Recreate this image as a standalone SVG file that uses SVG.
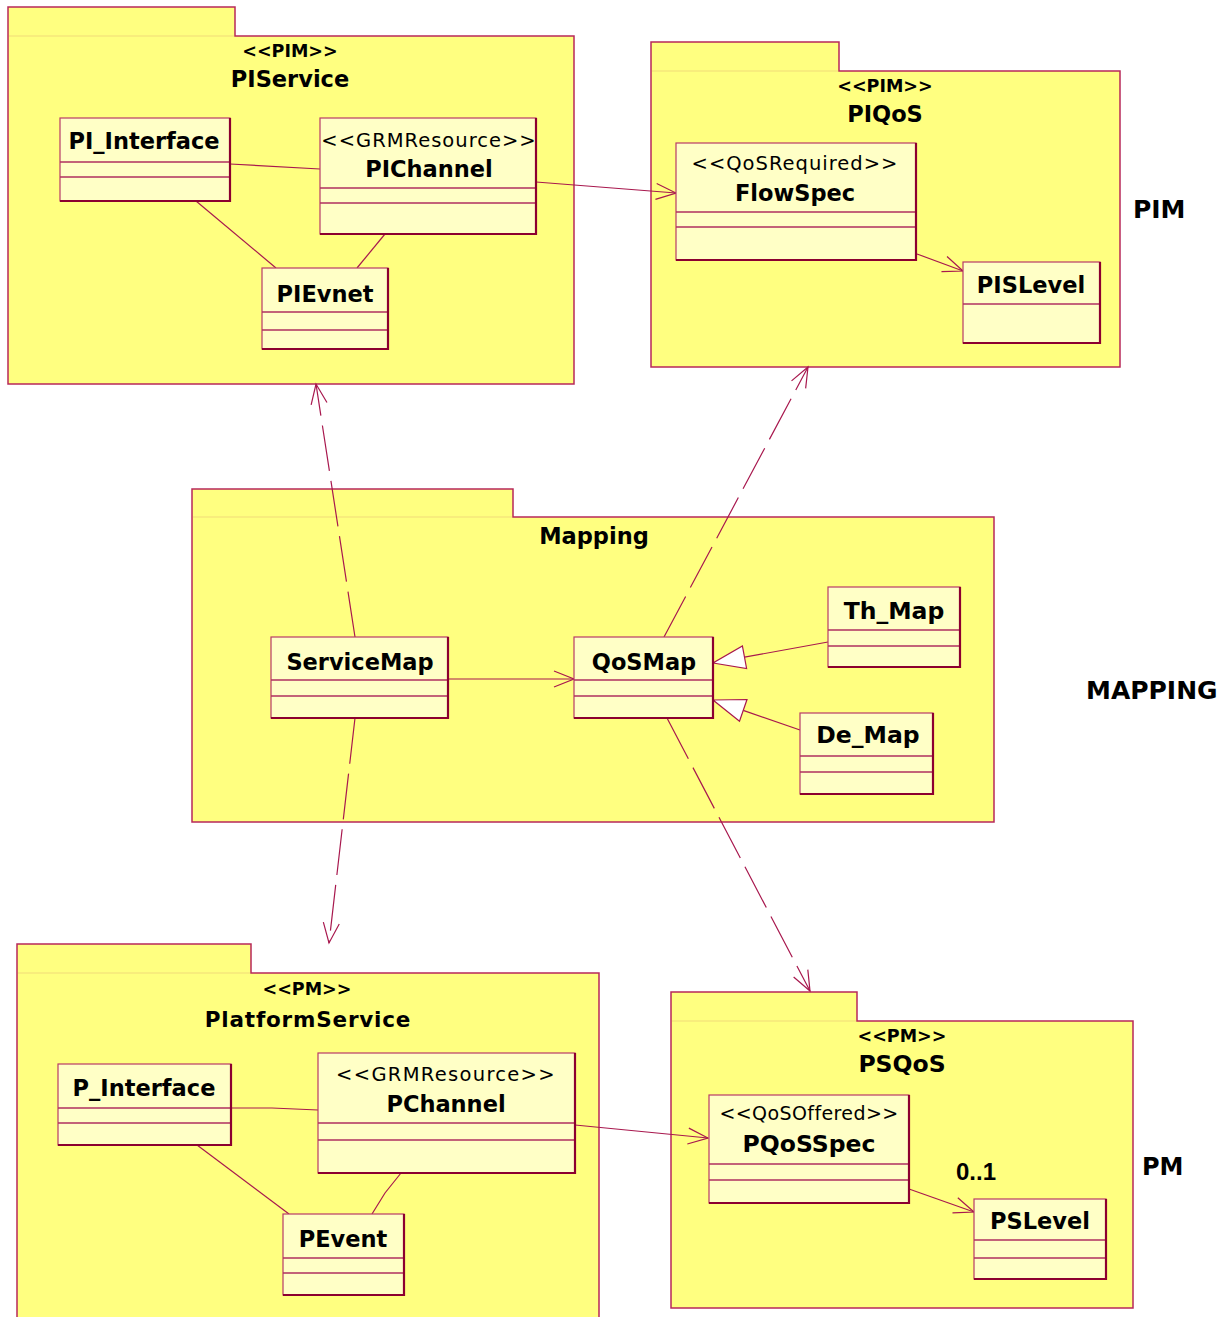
<svg xmlns="http://www.w3.org/2000/svg" width="1231" height="1317" viewBox="0 0 1231 1317">
  <style>
    .pkg { fill: #ffff80; stroke: #b8285a; stroke-width: 1.5; }
    .tabline { stroke: #f2dc78; stroke-width: 1.2; fill: none; }
    .cls { fill: #ffffc6; stroke: #b83a68; stroke-width: 1.2; }
    .shade { fill: none; stroke: #8c0030; stroke-width: 2.2; }
    .sep { fill: none; stroke: #b03060; stroke-width: 1.3; }
    .line { fill: none; stroke: #a8184e; stroke-width: 1.2; }
    .dash { fill: none; stroke: #a8184e; stroke-width: 1.2; stroke-dasharray: 46 10; }
    .gen { fill: #ffffff; stroke: #a8184e; stroke-width: 1.2; }
    text { font-family: "DejaVu Sans", Verdana, sans-serif; fill: #000; }
    .nm { font-weight: bold; font-size: 22.5px; text-anchor: middle; }
    .ster { font-weight: bold; font-size: 17.5px; text-anchor: middle; }
    .st { font-size: 19.5px; text-anchor: middle; letter-spacing: 1px; }
    .side { font-weight: bold; font-size: 25px; }
    .mult { font-family: "Liberation Sans", Arial, sans-serif; font-weight: bold; font-size: 24px; }
  </style>
  <defs>
    <marker id="open" viewBox="-22 -10 24 20" refX="0" refY="0" markerWidth="24" markerHeight="20" markerUnits="userSpaceOnUse" orient="auto">
      <path d="M-20,-8 L0,0 L-20,8" fill="none" stroke="#a8184e" stroke-width="1.2" stroke-dasharray="none"/>
    </marker>
  </defs>

  <rect width="1231" height="1317" fill="#ffffff"/>

  <!-- packages -->
  <g id="pkg-piservice">
    <polygon class="pkg" points="8,7 235,7 235,36 574,36 574,384 8,384"/>
    <line class="tabline" x1="9" y1="36" x2="234" y2="36"/>
    <text class="ster" x="290" y="57">&lt;&lt;PIM&gt;&gt;</text>
    <text class="nm" x="290" y="87">PIService</text>
  </g>
  <g id="pkg-piqos">
    <polygon class="pkg" points="651,42 839,42 839,71 1120,71 1120,367 651,367"/>
    <line class="tabline" x1="652" y1="71" x2="838" y2="71"/>
    <text class="ster" x="885" y="92">&lt;&lt;PIM&gt;&gt;</text>
    <text class="nm" x="885" y="122">PIQoS</text>
  </g>
  <g id="pkg-mapping">
    <polygon class="pkg" points="192,489 513,489 513,517 994,517 994,822 192,822"/>
    <line class="tabline" x1="193" y1="517" x2="512" y2="517"/>
    <text class="nm" x="594" y="544">Mapping</text>
  </g>
  <g id="pkg-platformservice">
    <polygon class="pkg" points="17,944 251,944 251,973 599,973 599,1330 17,1330"/>
    <line class="tabline" x1="18" y1="973" x2="250" y2="973"/>
    <text class="ster" x="307" y="995">&lt;&lt;PM&gt;&gt;</text>
    <text class="nm" x="308" y="1027" style="font-size:21.5px;letter-spacing:0.8px">PlatformService</text>
  </g>
  <g id="pkg-psqos">
    <polygon class="pkg" points="671,992 857,992 857,1021 1133,1021 1133,1308 671,1308"/>
    <line class="tabline" x1="672" y1="1021" x2="856" y2="1021"/>
    <text class="ster" x="902" y="1042">&lt;&lt;PM&gt;&gt;</text>
    <text class="nm" x="902" y="1072" style="font-size:23.5px">PSQoS</text>
  </g>

  <!-- level labels -->
  <g id="label-pim"><text class="side" x="1133" y="218">PIM</text></g>
  <g id="label-mapping"><text class="side" x="1086" y="699">MAPPING</text></g>
  <g id="label-pm"><text class="side" x="1142" y="1175" style="font-size:24px">PM</text></g>

  <!-- connectors -->
  <g id="connectors">
    <line class="line" x1="230" y1="164" x2="320" y2="169"/>
    <line class="line" x1="196" y1="201" x2="276" y2="268"/>
    <line class="line" x1="385" y1="234" x2="357" y2="268"/>
    <line class="line" x1="536" y1="182" x2="676" y2="193" marker-end="url(#open)"/>
    <line class="line" x1="917" y1="254" x2="963" y2="271" marker-end="url(#open)"/>
    <line class="line" x1="448" y1="679" x2="574" y2="679" marker-end="url(#open)"/>
    <line class="line" x1="828" y1="642" x2="744.5" y2="657.2"/>
    <polygon class="gen" points="713,663 746.6,668.5 742.4,645.9"/>
    <line class="line" x1="800" y1="730" x2="743.2" y2="710.4"/>
    <polygon class="gen" points="713,700 747,699.5 739.5,721.3"/>
    <polyline class="line" points="231,1108 272,1108 318,1110"/>
    <line class="line" x1="197" y1="1145" x2="289" y2="1214"/>
    <polyline class="line" points="401,1173 385,1193 372,1214"/>
    <line class="line" x1="575" y1="1125" x2="708" y2="1138" marker-end="url(#open)"/>
    <line class="line" x1="909" y1="1189" x2="974" y2="1212" marker-end="url(#open)"/>
    <line class="dash" x1="355" y1="637" x2="316" y2="384" marker-end="url(#open)"/>
    <line class="dash" x1="355" y1="718" x2="329" y2="943" marker-end="url(#open)"/>
    <line class="dash" x1="664" y1="637" x2="808" y2="367" marker-end="url(#open)"/>
    <line class="dash" x1="667" y1="718" x2="810" y2="991" marker-end="url(#open)"/>
    <text class="mult" x="956" y="1180">0..1</text>
  </g>

  <!-- classes -->
  <g id="cls-pi-interface">
    <rect class="cls" x="60" y="118" width="170" height="83"/>
    <path class="sep" d="M60,162 H230 M60,177 H230"/>
    <path class="shade" d="M230,118 V201 H60"/>
    <text class="nm" x="144" y="149">PI_Interface</text>
  </g>
  <g id="cls-pichannel">
    <rect class="cls" x="320" y="118" width="216" height="116"/>
    <path class="sep" d="M320,188 H536 M320,203 H536"/>
    <path class="shade" d="M536,118 V234 H320"/>
    <text class="st" x="429" y="147">&lt;&lt;GRMResource&gt;&gt;</text>
    <text class="nm" x="429" y="177">PIChannel</text>
  </g>
  <g id="cls-pievnet">
    <rect class="cls" x="262" y="268" width="126" height="81"/>
    <path class="sep" d="M262,312 H388 M262,330 H388"/>
    <path class="shade" d="M388,268 V349 H262"/>
    <text class="nm" x="325" y="302">PIEvnet</text>
  </g>
  <g id="cls-flowspec">
    <rect class="cls" x="676" y="143" width="240" height="117"/>
    <path class="sep" d="M676,212 H916 M676,227 H916"/>
    <path class="shade" d="M916,143 V260 H676"/>
    <text class="st" x="795" y="170">&lt;&lt;QoSRequired&gt;&gt;</text>
    <text class="nm" x="795" y="201">FlowSpec</text>
  </g>
  <g id="cls-pislevel">
    <rect class="cls" x="963" y="262" width="137" height="81"/>
    <path class="sep" d="M963,304 H1100"/>
    <path class="shade" d="M1100,262 V343 H963"/>
    <text class="nm" x="1031" y="293">PISLevel</text>
  </g>
  <g id="cls-servicemap">
    <rect class="cls" x="271" y="637" width="177" height="81"/>
    <path class="sep" d="M271,680 H448 M271,696 H448"/>
    <path class="shade" d="M448,637 V718 H271"/>
    <text class="nm" x="360" y="670">ServiceMap</text>
  </g>
  <g id="cls-qosmap">
    <rect class="cls" x="574" y="637" width="139" height="81"/>
    <path class="sep" d="M574,680 H713 M574,696 H713"/>
    <path class="shade" d="M713,637 V718 H574"/>
    <text class="nm" x="644" y="670">QoSMap</text>
  </g>
  <g id="cls-th-map">
    <rect class="cls" x="828" y="587" width="132" height="80"/>
    <path class="sep" d="M828,630 H960 M828,646 H960"/>
    <path class="shade" d="M960,587 V667 H828"/>
    <text class="nm" x="894" y="619" style="font-size:23.5px">Th_Map</text>
  </g>
  <g id="cls-de-map">
    <rect class="cls" x="800" y="713" width="133" height="81"/>
    <path class="sep" d="M800,756 H933 M800,772 H933"/>
    <path class="shade" d="M933,713 V794 H800"/>
    <text class="nm" x="868" y="743" style="font-size:23.5px">De_Map</text>
  </g>
  <g id="cls-p-interface">
    <rect class="cls" x="58" y="1064" width="173" height="81"/>
    <path class="sep" d="M58,1108 H231 M58,1123 H231"/>
    <path class="shade" d="M231,1064 V1145 H58"/>
    <text class="nm" x="144" y="1096">P_Interface</text>
  </g>
  <g id="cls-pchannel">
    <rect class="cls" x="318" y="1053" width="257" height="120"/>
    <path class="sep" d="M318,1123 H575 M318,1140 H575"/>
    <path class="shade" d="M575,1053 V1173 H318"/>
    <text class="st" x="446" y="1081" style="letter-spacing:1.3px">&lt;&lt;GRMResource&gt;&gt;</text>
    <text class="nm" x="446" y="1112">PChannel</text>
  </g>
  <g id="cls-pevent">
    <rect class="cls" x="283" y="1214" width="121" height="81"/>
    <path class="sep" d="M283,1258 H404 M283,1273 H404"/>
    <path class="shade" d="M404,1214 V1295 H283"/>
    <text class="nm" x="343" y="1247">PEvent</text>
  </g>
  <g id="cls-pqosspec">
    <rect class="cls" x="709" y="1095" width="200" height="108"/>
    <path class="sep" d="M709,1164 H909 M709,1180 H909"/>
    <path class="shade" d="M909,1095 V1203 H709"/>
    <text class="st" x="809" y="1120" style="font-size:19px;letter-spacing:0.4px">&lt;&lt;QoSOffered&gt;&gt;</text>
    <text class="nm" x="809" y="1152" style="font-size:23.5px">PQoSSpec</text>
  </g>
  <g id="cls-pslevel">
    <rect class="cls" x="974" y="1199" width="132" height="80"/>
    <path class="sep" d="M974,1240 H1106 M974,1258 H1106"/>
    <path class="shade" d="M1106,1199 V1279 H974"/>
    <text class="nm" x="1040" y="1229">PSLevel</text>
  </g>
</svg>
